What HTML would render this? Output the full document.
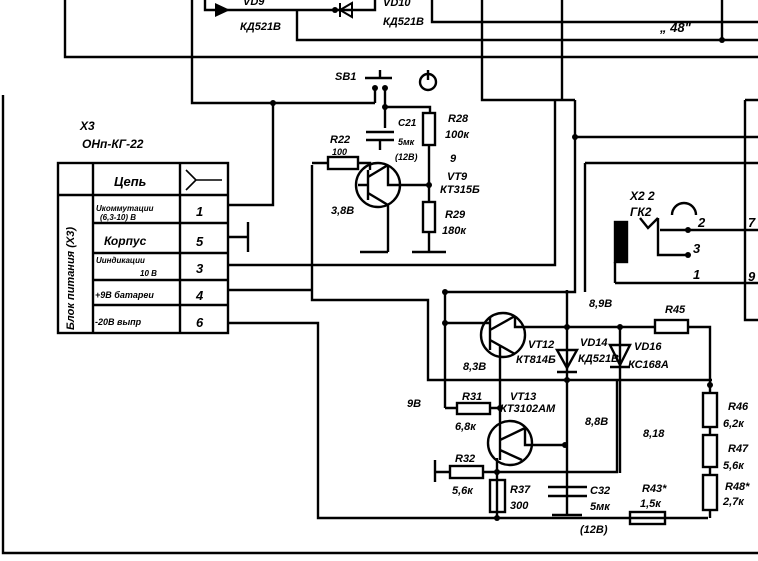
<!DOCTYPE html>
<html><head><meta charset="utf-8"><style>
body{margin:0;background:#fff}
svg{display:block}
text{font-family:"Liberation Sans","DejaVu Sans",sans-serif;font-style:italic;font-weight:bold;fill:#000}
</style></head><body>
<svg width="758" height="561" viewBox="0 0 758 561" xmlns="http://www.w3.org/2000/svg">
<g stroke="#000" stroke-width="2.4" fill="none">
<!-- frame -->
<path d="M3 95V553H758"/>
<!-- top wiring -->
<path d="M65 0V57H758"/>
<path d="M192 0V103H375"/>
<path d="M205 0V10H375V0"/>
<path d="M297 10V40H758"/>
<path d="M432 0V22H758"/>
<path d="M722 0V40"/>
<path d="M482 0V100H575"/>
<path d="M562 0V100"/>
<path d="M555 100V265H228"/>
<path d="M575 100V292H565"/>
<path d="M575 137H758"/>
<path d="M585 163H758M585 163V292"/>
<path d="M273 103V205H228"/>
<!-- table -->
<rect x="58" y="163" width="170" height="170"/>
<path d="M93 163V333M180 163V333M58 195H228M93 223H228M93 253H228M93 280H228M93 305H228"/>
<path d="M186 170L196 180L186 190M196 180H222" stroke-width="1.6"/>
<path d="M228 237H248M248 222V252"/>
<path d="M228 290H312M312 165V300H428V380H712"/>
<path d="M228 323H318V518H708"/>
<!-- SB1 / VT9 circuit -->
<path d="M365 78H392M380 70V78"/>
<circle cx="428" cy="82" r="8"/><path d="M428 70V80"/>
<path d="M375 88V103M385 88V107H430V113"/>
<path d="M385 107V128M366 132H394M366 140H394M380 140V150"/>
<rect x="423" y="113" width="12" height="32"/>
<path d="M429 145V202"/>
<rect x="423" y="202" width="12" height="30"/>
<path d="M429 232V252M412 252H446"/>
<circle cx="378" cy="185" r="22"/>
<path d="M368 170V200M368 185H358M368 177L388 165M368 193L388 205M388 205V252M360 252H388"/>
<path d="M388 165V185H429"/>
<path d="M312 163H328M358 163H370V170"/>
<rect x="328" y="157" width="30" height="12"/>
<!-- VT12 -->
<circle cx="503" cy="335" r="22"/>
<path d="M445 292V408M445 292H567M445 323H490M490 318V350M490 330L515 316M490 340L515 354M515 316V327H567M500 345V408"/>
<path d="M567 290V495"/>
<path d="M557 350H577L567 368Z M557 372H577"/>
<path d="M610 345H630L620 365Z M610 367H630"/>
<path d="M620 327V473M567 327H655M688 327H710V385"/>
<rect x="655" y="320" width="33" height="13"/>
<!-- R31 VT13 -->
<path d="M445 408H457M490 408H500"/>
<rect x="457" y="403" width="33" height="11"/>
<circle cx="510" cy="443" r="22"/>
<path d="M500 408V430M500 428V460M500 440L525 428M525 428V445H565M500 450L522 460M497 458V518"/>
<path d="M435 460V482M435 472H450M483 472H617V380"/>
<rect x="450" y="466" width="33" height="12"/>
<rect x="490" y="480" width="15" height="32"/>
<path d="M548 487H587M548 496H587M567 496V515M552 515H582"/>
<!-- right divider -->
<rect x="703" y="393" width="14" height="34"/>
<rect x="703" y="435" width="14" height="32"/>
<rect x="703" y="475" width="14" height="35"/>
<path d="M710 385V393M710 427V435M710 467V475M710 510V518"/>
<rect x="630" y="512" width="35" height="12"/>
<!-- right box / jack -->
<path d="M745 100H758M745 100V320H758"/>
<path d="M660 230H758M615 283H758M615 262V283"/>
<rect x="615" y="222" width="12" height="40" fill="#000"/>
<path d="M640 218L648 228L658 218M658 218V255H688"/>
<path d="M672 215A12 12 0 0 1 696 215"/>
</g>
<g fill="#000">
<circle cx="273" cy="103" r="3"/><circle cx="375" cy="88" r="3"/><circle cx="385" cy="88" r="3"/><circle cx="385" cy="107" r="3"/>
<circle cx="429" cy="185" r="3"/><circle cx="575" cy="137" r="3"/><circle cx="722" cy="40" r="3"/>
<circle cx="445" cy="292" r="3"/><circle cx="445" cy="323" r="3"/><circle cx="567" cy="327" r="3"/>
<circle cx="620" cy="327" r="3"/><circle cx="567" cy="380" r="3"/><circle cx="710" cy="385" r="3"/>
<circle cx="500" cy="408" r="3"/><circle cx="565" cy="445" r="3"/><circle cx="497" cy="472" r="3"/>
<circle cx="497" cy="518" r="3"/><circle cx="688" cy="255" r="3"/><circle cx="688" cy="230" r="3"/>
<circle cx="335" cy="10" r="3"/>
</g>
<path d="M215 3L230 10L215 17Z M230 3V17" fill="#000"/>
<path d="M352 3L340 10L352 17Z M340 3V17" fill="none" stroke="#000" stroke-width="2"/>
<g font-size="11">
<text x="243" y="5">VD9</text>
<text x="240" y="30">КД521В</text><text x="383" y="25">КД521В</text><text x="383" y="6">VD10</text>
<text x="660" y="32" font-size="13">„ 48"</text>
<text x="335" y="80">SB1</text>
<text x="80" y="130" font-size="12">X3</text><text x="82" y="148" font-size="12">ОНп-КГ-22</text>
<text x="114" y="186" font-size="13">Цепь</text>
<text x="96" y="211" font-size="8">Uкоммутации</text><text x="100" y="220" font-size="8">(6,3-10) В</text>
<text x="196" y="216" font-size="13">1</text>
<text x="104" y="245" font-size="12">Корпус</text><text x="196" y="246" font-size="13">5</text>
<text x="96" y="263" font-size="8">Uиндикации</text><text x="140" y="276" font-size="8">10 В</text>
<text x="196" y="273" font-size="13">3</text>
<text x="95" y="298" font-size="9">+9В батареи</text><text x="196" y="300" font-size="13">4</text>
<text x="95" y="325" font-size="9">-20В выпр</text><text x="196" y="327" font-size="13">6</text>
<text transform="translate(74 330) rotate(-90)" font-size="11">Блок питания (X3)</text>
<text x="330" y="143">R22</text><text x="332" y="155" font-size="9">100</text>
<text x="331" y="214">3,8В</text>
<text x="398" y="126" font-size="10">C21</text><text x="398" y="145" font-size="9">5мк</text><text x="395" y="160" font-size="9">(12В)</text>
<text x="448" y="122">R28</text><text x="445" y="138">100к</text>
<text x="450" y="162">9</text><text x="447" y="180">VT9</text><text x="440" y="193">КТ315Б</text>
<text x="445" y="218">R29</text><text x="442" y="234">180к</text>
<text x="630" y="200" font-size="12">X2 2</text><text x="630" y="216" font-size="12">ГК2</text>
<text x="698" y="227" font-size="13">2</text><text x="693" y="253" font-size="13">3</text><text x="693" y="279" font-size="13">1</text>
<text x="748" y="227" font-size="13">7</text><text x="748" y="281" font-size="13">9</text>
<text x="589" y="307">8,9В</text><text x="665" y="313">R45</text>
<text x="528" y="348">VT12</text><text x="516" y="363">КТ814Б</text>
<text x="580" y="346">VD14</text><text x="578" y="362">КД521В</text>
<text x="634" y="350">VD16</text><text x="628" y="368">КС168А</text>
<text x="463" y="370">8,3В</text>
<text x="462" y="400">R31</text><text x="510" y="400">VT13</text><text x="500" y="412">КТ3102АМ</text>
<text x="407" y="407">9В</text><text x="455" y="430">6,8к</text>
<text x="585" y="425">8,8В</text><text x="643" y="437">8,18</text>
<text x="455" y="462">R32</text><text x="452" y="494">5,6к</text>
<text x="510" y="493">R37</text><text x="510" y="509">300</text>
<text x="590" y="494">C32</text><text x="590" y="510">5мк</text><text x="580" y="533">(12В)</text>
<text x="642" y="492">R43*</text><text x="640" y="507">1,5к</text>
<text x="728" y="410">R46</text><text x="723" y="427">6,2к</text>
<text x="728" y="452">R47</text><text x="723" y="469">5,6к</text>
<text x="725" y="490">R48*</text><text x="723" y="505">2,7к</text>
</g>
</svg>
</body></html>
